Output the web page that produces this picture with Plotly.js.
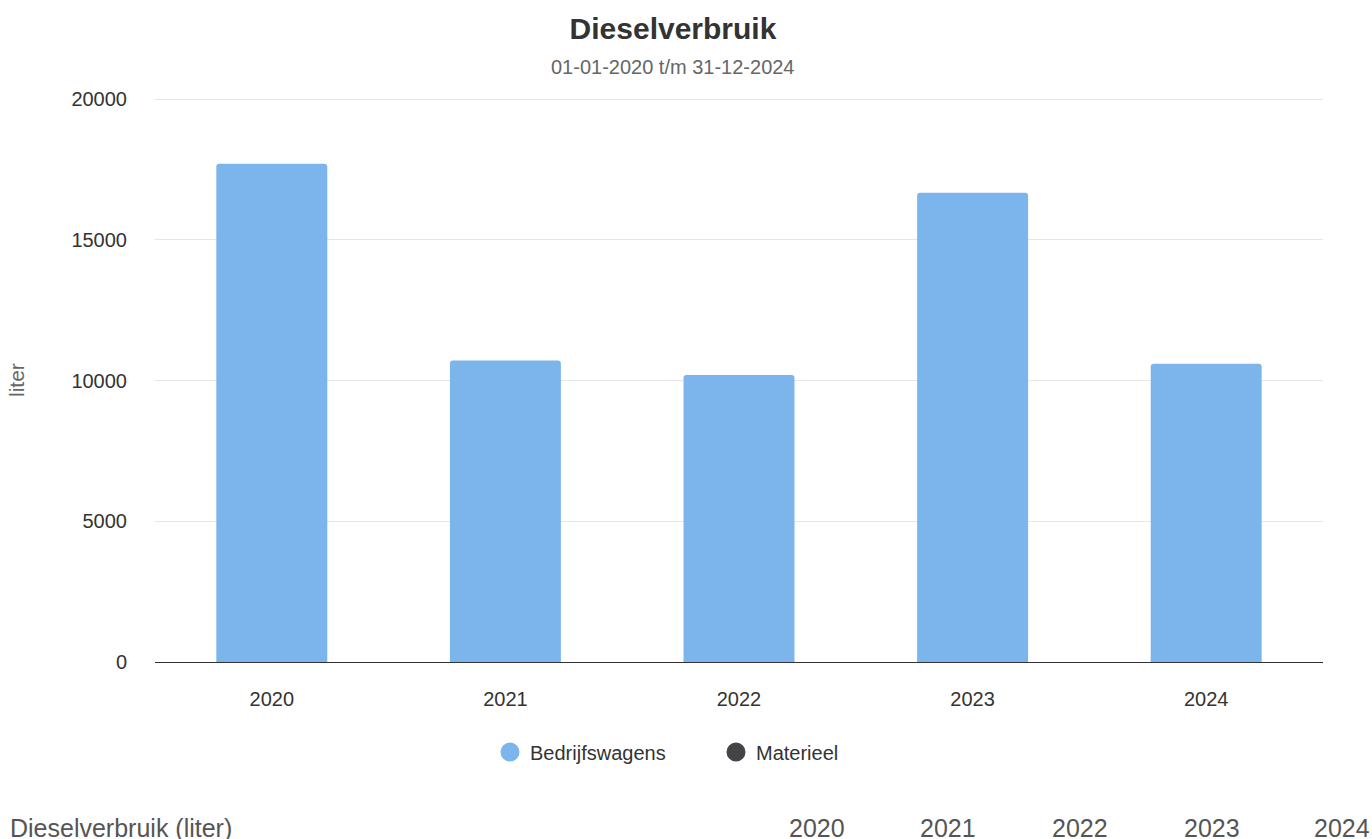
<!DOCTYPE html>
<html>
<head>
<meta charset="utf-8">
<script src="https://cdn.plot.ly/plotly-3.0.1.min.js"></script>
<style>html,body{margin:0;padding:0;background:#fff;overflow:hidden}#chart{width:1372px;height:839px}</style>
</head>
<body>
<div id="chart"></div>
<script>
const years = ['2020', '2021', '2022', '2023', '2024'];
const bedrijfswagens = [17700, 10710, 10200, 16670, 10600];
const materieel = [null, null, null, null, null];
const yTicks = [0, 5000, 10000, 15000, 20000];
const tableHeader = 'Dieselverbruik (liter)';
const tableYearX = [817, 948, 1080, 1212, 1342];

const FONT = 'Liberation Sans, Arial, Helvetica, sans-serif';
const PL = 155, PW = 1168, PB = 662, PH = 564;
const px = v => (v - PL) / PW;
const py = v => (PB - v) / PH;

const traces = [
  {
    type: 'bar', x: years, y: bedrijfswagens, name: 'Bedrijfswagens',
    marker: {color: '#7cb5ec'}, width: 0.475, showlegend: false
  },
  {
    type: 'scatter', mode: 'markers', x: years, y: materieel, name: 'Materieel',
    marker: {color: '#434348'}, showlegend: false
  },
  {
    type: 'scatter', mode: 'markers', x: [null], y: [null], name: 'Bedrijfswagens',
    marker: {color: '#7cb5ec', size: 16, symbol: 'circle', line: {color: '#7cb5ec', width: 3}}
  },
  {
    type: 'scatter', mode: 'markers', x: [null], y: [null], name: 'Materieel',
    marker: {color: '#434348', size: 16, symbol: 'circle', line: {color: '#434348', width: 3}}
  }
];

const annotations = [
  {text: '01-01-2020 t/m 31-12-2024', xref: 'paper', yref: 'paper', x: px(672.5), y: py(67),
   xanchor: 'center', yanchor: 'middle', showarrow: false, font: {family: FONT, size: 20, color: '#666666'}},
  {text: 'liter', xref: 'paper', yref: 'paper', x: px(16), y: py(380), textangle: -90,
   xanchor: 'center', yanchor: 'middle', showarrow: false, font: {family: FONT, size: 21, color: '#666666'}},
  {text: tableHeader, xref: 'paper', yref: 'paper', x: px(8), y: py(828),
   xanchor: 'left', yanchor: 'middle', showarrow: false, font: {family: FONT, size: 25, color: '#555555'}}
];
years.forEach((yr, i) => {
  annotations.push({text: yr, xref: 'paper', yref: 'paper', x: px(tableYearX[i]), y: py(828),
    xanchor: 'center', yanchor: 'middle', showarrow: false, font: {family: FONT, size: 25, color: '#555555'}});
});

const layout = {
  width: 1372, height: 839,
  margin: {l: 155, r: 49, t: 98, b: 177, pad: 0},
  paper_bgcolor: '#ffffff', plot_bgcolor: '#ffffff',
  font: {family: FONT, color: '#333333'},
  title: {text: '<b>Dieselverbruik</b>', x: 673 / 1372, xanchor: 'center', y: 1 - 28 / 839, yanchor: 'middle',
          font: {family: FONT, size: 30, color: '#333333'}},
  barcornerradius: 3,
  xaxis: {
    type: 'category', showgrid: false, zeroline: false,
    showline: true, linecolor: '#333333', linewidth: 1,
    ticks: 'outside', ticklen: 19, tickcolor: 'rgba(0,0,0,0)',
    tickfont: {family: FONT, size: 20, color: '#333333'}, fixedrange: true
  },
  yaxis: {
    range: [0, 20040], tickvals: yTicks, ticktext: yTicks.map(String),
    showgrid: true, gridcolor: '#e6e6e6', gridwidth: 1,
    zeroline: true, zerolinecolor: '#333333', zerolinewidth: 1,
    ticks: 'outside', ticklen: 23, tickcolor: 'rgba(0,0,0,0)',
    tickfont: {family: FONT, size: 20, color: '#333333'}, fixedrange: true
  },
  legend: {
    orientation: 'h', x: px(490), xanchor: 'left', y: py(752), yanchor: 'middle',
    font: {family: FONT, size: 20, color: '#333333'}, entrywidth: 181,
    bgcolor: 'rgba(0,0,0,0)'
  },
  annotations: annotations,
  showlegend: true
};

Plotly.newPlot('chart', traces, layout, {displayModeBar: false, staticPlot: true});
</script>
</body>
</html>
